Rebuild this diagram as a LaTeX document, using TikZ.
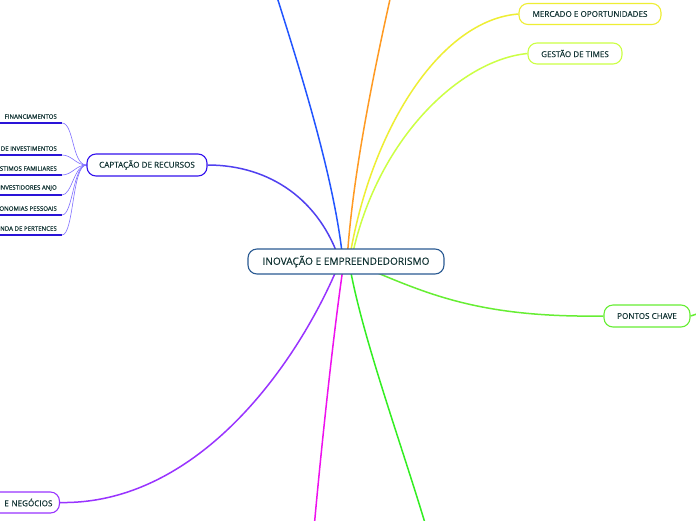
\documentclass[tikz,border=0pt]{standalone}
\usepackage{fontspec}
\setmainfont{Open Sans}
\newfontfamily\mfont[FakeBold=0.35]{Open Sans}
\usetikzlibrary{backgrounds}
\definecolor{txt}{HTML}{123434}
\definecolor{cborder}{HTML}{2A5A92}
\definecolor{capblue}{HTML}{3311EE}
\definecolor{capline}{HTML}{5040F0}
\definecolor{subline}{HTML}{8070FF}
\definecolor{subul}{HTML}{2A14D8}
\definecolor{topblue}{HTML}{2255FF}
\definecolor{orangeb}{HTML}{FF9A22}
\definecolor{yellowb}{HTML}{EEEE33}
\definecolor{ygreenb}{HTML}{CCFF44}
\definecolor{greenp}{HTML}{66EE33}
\definecolor{purpleb}{HTML}{9933FF}
\definecolor{magentab}{HTML}{EE11EE}
\definecolor{greenb}{HTML}{33EE22}
\begin{document}
\begin{tikzpicture}[x=1pt,y=-1pt,
  topic/.style={draw, rounded corners=9pt, fill=white, text=txt, line width=1.1pt, inner sep=0pt, minimum height=21pt, font=\mfont\fontsize{8.1}{9}\selectfont},
  central/.style={topic, draw=cborder, minimum height=25pt, minimum width=196pt, font=\mfont\fontsize{10.1}{11}\selectfont},
  subitem/.style={anchor=south east, inner sep=0pt, text=txt, font=\mfont\fontsize{6.1}{7}\selectfont},
  branch/.style={line width=1.5pt},
  subcurve/.style={subline, line width=0.6pt},
  underl/.style={subul, line width=1.8pt}]
\useasboundingbox (0,0) rectangle (696,520);

\node[central] (c) at (346,261.5) {INOVAÇÃO E EMPREENDEDORISMO};
\node[topic, draw=capblue, minimum width=120pt, minimum height=22pt] (cap) at (147,165) {CAPTAÇÃO DE RECURSOS};
\node[topic, draw=yellowb, minimum width=142pt] (mer) at (590,14) {MERCADO E OPORTUNIDADES};
\node[topic, draw=ygreenb, minimum width=94pt] (ges) at (575,53.5) {GESTÃO DE TIMES};
\node[topic, draw=greenp, minimum width=86pt, minimum height=22pt] (pon) at (647,316) {PONTOS CHAVE};
\node[topic, draw=purpleb, minimum width=110pt, anchor=east, text width=96pt, align=right] (neg) at (60,502.5) {E NEGÓCIOS};

\node[subitem] (s1) at (57,119) {FINANCIAMENTOS};
\node[subitem] (s2) at (57,151) {DE INVESTIMENTOS};
\node[subitem] (s3) at (57,171) {STIMOS FAMILIARES};
\node[subitem] (s4) at (57,191) {INVESTIDORES ANJO};
\node[subitem] (s5) at (57,211) {ONOMIAS PESSOAIS};
\node[subitem] (s6) at (57,231) {NDA DE PERTENCES};

\coordinate (u1a) at (-5,123); \coordinate (u1b) at (62,123);
\coordinate (u2a) at (-5,155); \coordinate (u2b) at (62,155);
\coordinate (u3a) at (-5,175); \coordinate (u3b) at (62,175);
\coordinate (u4a) at (-5,195); \coordinate (u4b) at (62,195);
\coordinate (u5a) at (-5,215); \coordinate (u5b) at (62,215);
\coordinate (u6a) at (-5,235); \coordinate (u6b) at (62,235);

\coordinate (tb) at (277,-3);
\coordinate (to) at (390.5,-3);
\coordinate (bm) at (314.5,523);
\coordinate (bg) at (425,523);
\coordinate (pr) at (700,313);

\begin{pgfonlayer}{background}
\fill[white] (0,0) rectangle (696,520);
\draw[underl] (u1a) -- (u1b);
\draw[underl] (u2a) -- (u2b);
\draw[underl] (u3a) -- (u3b);
\draw[underl] (u4a) -- (u4b);
\draw[underl] (u5a) -- (u5b);
\draw[underl] (u6a) -- (u6b);
\draw[subcurve] (u1b) .. controls (74,123) and (72,165) .. (cap.west);
\draw[subcurve] (u2b) .. controls (72,155) and (76,165) .. (cap.west);
\draw[subcurve] (u3b) .. controls (72,175) and (76,165) .. (cap.west);
\draw[subcurve] (u4b) .. controls (72,195) and (74,165) .. (cap.west);
\draw[subcurve] (u5b) .. controls (73,215) and (73,165) .. (cap.west);
\draw[subcurve] (u6b) .. controls (74,235) and (72,165) .. (cap.west);

\draw[branch, capline] (cap.east) .. controls (270,165) and (320,200) .. ([xshift=-6pt]c.center);
\draw[branch, topblue] (tb) .. controls (300,70) and (335,180) .. ([xshift=-3pt]c.center);
\draw[branch, orangeb] (to) .. controls (372,80) and (352,180) .. ([xshift=1pt]c.center);
\draw[branch, yellowb] (mer.west) .. controls (440,20) and (370,130) .. ([xshift=3pt]c.center);
\draw[branch, ygreenb] (ges.west) .. controls (460,60) and (375,140) .. ([xshift=5pt]c.center);
\draw[branch, greenp] (pon.west) .. controls (470,318) and (420,290) .. ([xshift=4pt]c.center);
\draw[branch, greenp] (pon.east) -- (pr);
\draw[branch, purpleb] (neg.east) .. controls (200,505) and (300,360) .. ([xshift=-6pt]c.center);
\draw[branch, magentab] (bm) .. controls (322,440) and (335,320) .. ([xshift=-2pt]c.center);
\draw[branch, greenb] (bg) .. controls (400,440) and (360,330) .. ([xshift=3pt]c.center);
\end{pgfonlayer}
\end{tikzpicture}
\end{document}
